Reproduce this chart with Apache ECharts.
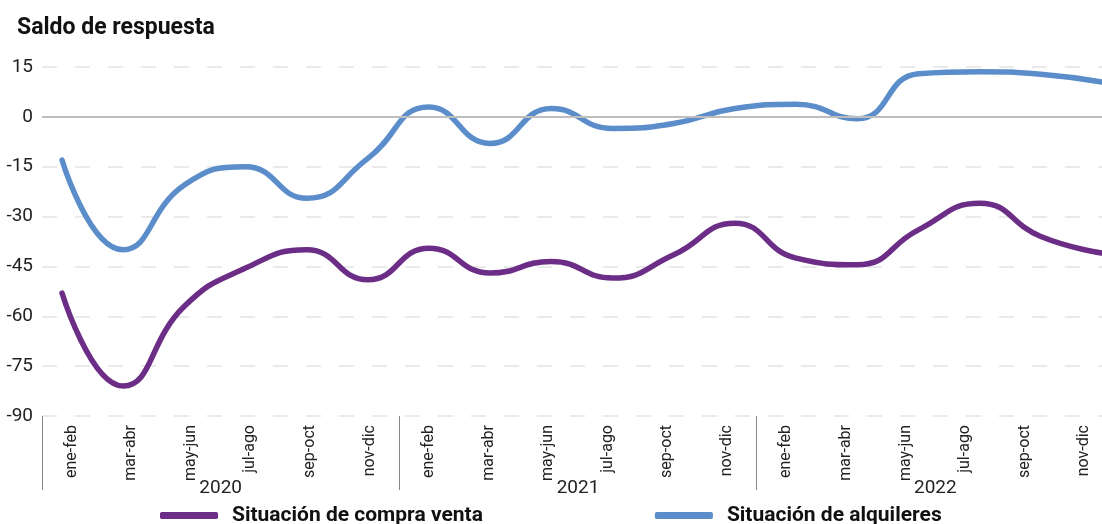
<!DOCTYPE html>
<html>
<head>
<meta charset="utf-8">
<script src="https://cdn.jsdelivr.net/npm/echarts@6/dist/echarts.min.js"></script>
<style>
    html, body {margin: 0; padding: 0; background: #fff;}
    #chart {width: 1102px; height: 524px;}
</style>
</head>
<body>
<div id="chart"></div>
<script type="text/javascript">
    // bimestres y años
    let periodos = ['ene-feb', 'mar-abr', 'may-jun', 'jul-ago', 'sep-oct', 'nov-dic',
        'ene-feb', 'mar-abr', 'may-jun', 'jul-ago', 'sep-oct', 'nov-dic',
        'ene-feb', 'mar-abr', 'may-jun', 'jul-ago', 'sep-oct', 'nov-dic'];
    let anios = ['2020', '2021', '2022'];
    let compraVenta = [-53, -81, -57, -45.5, -40, -49, -39.5, -47, -43.5, -48.5, -41.5, -32, -42.5, -44.5, -34, -26, -36, -41];
    let alquileres = [-13, -40, -20.5, -15, -24.5, -12.5, 3, -8, 2.5, -3.5, -2, 2.5, 3.8, -0.6, 13, 13.6, 12.8, 10.5];
    let yTicks = {min: -90, max: 15, interval: 15};

    let font = "'Liberation Sans Narrow', 'Roboto', sans-serif";

    function initChart() {
        let myChart = echarts.init(document.getElementById('chart'));
        let option = {
            animation: false,
            textStyle: {fontFamily: font},
            title: {
                text: 'Saldo de respuesta',
                left: 12,
                top: 12,
                textStyle: {fontSize: 23, fontWeight: 'bold', color: '#111', fontFamily: font}
            },
            legend: {
                top: 500,
                left: 155,
                itemGap: 172,
                itemWidth: 58,
                itemHeight: 7,
                icon: 'roundRect',
                textStyle: {fontSize: 21, fontWeight: 'bold', color: '#111', fontFamily: font, padding: [0, 0, 0, 9]},
                data: ['Situación de compra venta', 'Situación de alquileres']
            },
            grid: [
                {left: 42, width: 1072, top: 67, bottom: 108, outerBoundsMode: 'none', containLabel: false},
                {left: 62, right: 0, top: 67, bottom: 108, outerBoundsMode: 'none', containLabel: false}
            ],
            xAxis: [
                {
                    type: 'category',
                    gridIndex: 0,
                    data: periodos,
                    boundaryGap: true,
                    axisLine: {show: false},
                    axisTick: {show: false},
                    axisLabel: {interval: 0, rotate: 90, margin: 9, fontSize: 16, color: '#222'}
                },
                {
                    type: 'category',
                    gridIndex: 0,
                    position: 'bottom',
                    data: anios,
                    boundaryGap: true,
                    axisLine: {show: false},
                    axisTick: {show: true, length: 74, lineStyle: {color: '#888'}},
                    axisLabel: {margin: 63, fontSize: 19, color: '#222'}
                },
                {
                    type: 'category',
                    gridIndex: 1,
                    data: periodos,
                    boundaryGap: false,
                    show: false
                }
            ],
            yAxis: [
                {
                    type: 'value',
                    gridIndex: 0,
                    min: yTicks.min,
                    max: yTicks.max,
                    interval: yTicks.interval,
                    axisLine: {show: false},
                    axisTick: {show: false},
                    axisLabel: {margin: 9, fontSize: 19, color: '#222'},
                    splitLine: {lineStyle: {color: '#e3e3e3', type: [15, 18], width: 1.5}}
                },
                {
                    type: 'value',
                    gridIndex: 1,
                    min: yTicks.min,
                    max: yTicks.max,
                    interval: yTicks.interval,
                    show: false,
                    splitLine: {show: false}
                }
            ],
            series: [
                {
                    // línea del cero
                    type: 'line',
                    xAxisIndex: 0,
                    yAxisIndex: 0,
                    data: [],
                    silent: true,
                    markLine: {
                        silent: true,
                        symbol: 'none',
                        label: {show: false},
                        lineStyle: {color: '#bdbdbd', type: 'solid', width: 2},
                        data: [{yAxis: 0}]
                    }
                },
                {
                    name: 'Situación de compra venta',
                    type: 'line',
                    xAxisIndex: 2,
                    yAxisIndex: 1,
                    data: compraVenta,
                    smooth: 0.5,
                    symbol: 'none',
                    color: '#6C2D87',
                    lineStyle: {width: 5.5, color: '#6C2D87', cap: 'round'}
                },
                {
                    name: 'Situación de alquileres',
                    type: 'line',
                    xAxisIndex: 2,
                    yAxisIndex: 1,
                    data: alquileres,
                    smooth: 0.5,
                    symbol: 'none',
                    color: '#5B8DCB',
                    lineStyle: {width: 5.5, color: '#5B8DCB', cap: 'round'}
                }
            ]
        };
        myChart.setOption(option);
    }

    initChart();
</script>
</body>
</html>
